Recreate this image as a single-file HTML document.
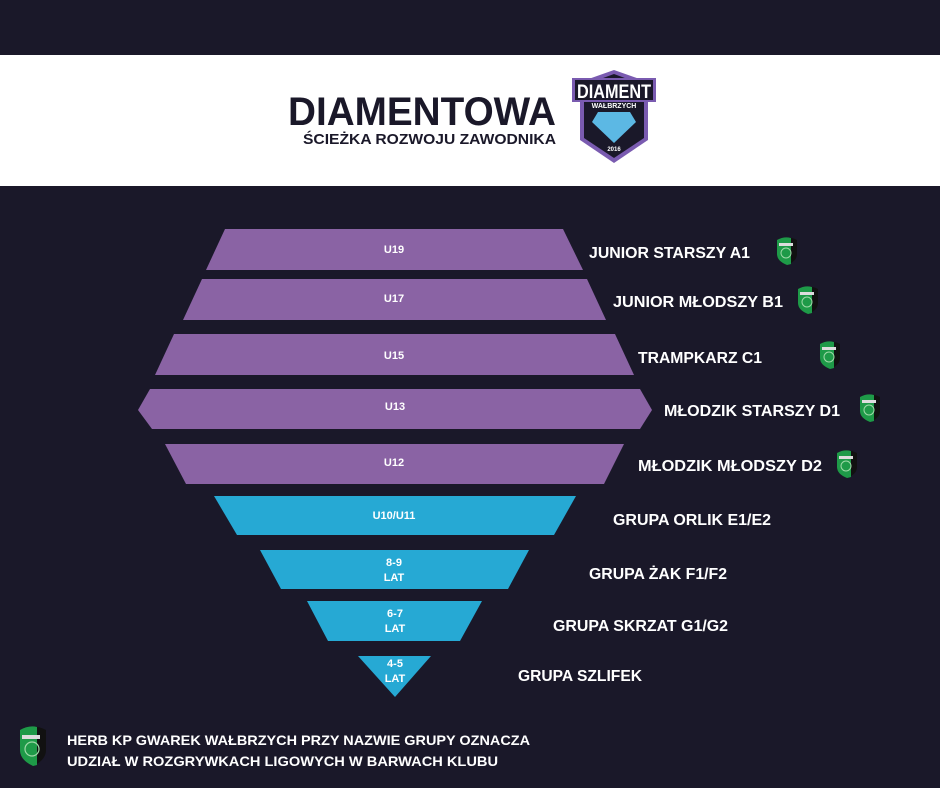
<!DOCTYPE html>
<html><head><meta charset="utf-8"><style>
html,body{margin:0;padding:0;background:#1a1829;}
svg{display:block}
text{font-family:"Liberation Sans",sans-serif;font-weight:bold;}
</style></head><body>
<svg width="940" height="788" viewBox="0 0 940 788" xmlns="http://www.w3.org/2000/svg">
<defs>
<g id="gw">
<path d="M0,3 Q10,-2 20,3 L20,17 Q20,24 10,28 Q0,24 0,17 Z" fill="#111"/>
<path d="M0,3 Q7,-1 14,1 L14,27 Q10,28 10,28 Q0,24 0,17 Z" fill="#1e9a48"/>
<rect x="2" y="6" width="14" height="3" fill="#ddd"/>
<circle cx="9" cy="16" r="5" fill="none" stroke="#9fd9a8" stroke-width="1"/>
</g>
<g id="gwb">
<path d="M0,4 Q13,-3 26,4 L26,24 Q26,34 13,40 Q0,34 0,24 Z" fill="#111"/>
<path d="M0,4 Q9,-1 17,1 L17,39 Q13,40 13,40 Q0,34 0,24 Z" fill="#1e9a48"/>
<rect x="2" y="9" width="18" height="4" fill="#ddd"/>
<circle cx="12" cy="23" r="7" fill="none" stroke="#9fd9a8" stroke-width="1.2"/>
</g>
</defs>
<rect width="940" height="788" fill="#1a1829"/>
<rect y="55" width="940" height="131" fill="#ffffff"/>
<text x="288" y="125" font-size="40" fill="#1a1829" textLength="268" lengthAdjust="spacingAndGlyphs">DIAMENTOWA</text>
<text x="303" y="144" font-size="15" fill="#1a1829" textLength="253" lengthAdjust="spacingAndGlyphs">ŚCIEŻKA ROZWOJU ZAWODNIKA</text>
<path d="M580,82 L614,70 L648,82 L648,140 L614,163 L580,140 Z" fill="#7a5bb0"/>
<path d="M584,85 L614,74 L644,85 L644,138 L614,158 L584,138 Z" fill="#1a1829"/>
<rect x="572" y="78" width="84" height="24" fill="#7a5bb0"/>
<rect x="575" y="80" width="78" height="20" fill="#1a1829"/>
<text x="614" y="98" font-size="19" fill="#fff" text-anchor="middle" textLength="74" lengthAdjust="spacingAndGlyphs">DIAMENT</text>
<text x="614" y="108" font-size="7" fill="#fff" text-anchor="middle">WAŁBRZYCH</text>
<path d="M598,112 L630,112 L636,122 L614,143 L592,122 Z" fill="#5cb8e4"/>
<text x="614" y="151" font-size="6" fill="#fff" text-anchor="middle">2016</text>
<g fill="#8a63a4">
<polygon points="225,229 563,229 583,270 206,270"/>
<polygon points="202,279 587,279 606,320 183,320"/>
<polygon points="174,334 615,334 634,375 155,375"/>
<polygon points="150,389 640,389 652,410 640,429 152,429 138,410"/>
<polygon points="165,444 624,444 604,484 186,484"/>
</g>
<g fill="#26a9d4">
<polygon points="214,496 576,496 554,535 237,535"/>
<polygon points="260,550 529,550 508,589 281,589"/>
<polygon points="307,601 482,601 460,641 328,641"/>
<polygon points="358,656 431,656 395,697"/>
</g>
<g fill="#fff" font-size="11" text-anchor="middle">
<text x="394" y="253">U19</text>
<text x="394" y="302">U17</text>
<text x="394" y="359">U15</text>
<text x="395" y="410">U13</text>
<text x="394" y="466">U12</text>
<text x="394" y="519">U10/U11</text>
<text x="394" y="566">8-9</text>
<text x="394" y="581">LAT</text>
<text x="395" y="617">6-7</text>
<text x="395" y="632">LAT</text>
<text x="395" y="667">4-5</text>
<text x="395" y="682">LAT</text>
</g>
<g fill="#fff" font-size="16">
<text x="589" y="258" textLength="161" lengthAdjust="spacingAndGlyphs">JUNIOR STARSZY A1</text>
<text x="613" y="307" textLength="170" lengthAdjust="spacingAndGlyphs">JUNIOR MŁODSZY B1</text>
<text x="638" y="363" textLength="124" lengthAdjust="spacingAndGlyphs">TRAMPKARZ C1</text>
<text x="664" y="416" textLength="176" lengthAdjust="spacingAndGlyphs">MŁODZIK STARSZY D1</text>
<text x="638" y="471" textLength="184" lengthAdjust="spacingAndGlyphs">MŁODZIK MŁODSZY D2</text>
<text x="613" y="525" textLength="158" lengthAdjust="spacingAndGlyphs">GRUPA ORLIK E1/E2</text>
<text x="589" y="579" textLength="138" lengthAdjust="spacingAndGlyphs">GRUPA ŻAK F1/F2</text>
<text x="553" y="631" textLength="175" lengthAdjust="spacingAndGlyphs">GRUPA SKRZAT G1/G2</text>
<text x="518" y="681" textLength="124" lengthAdjust="spacingAndGlyphs">GRUPA SZLIFEK</text>
</g>
<use href="#gw" x="777" y="237"/>
<use href="#gw" x="798" y="286"/>
<use href="#gw" x="820" y="341"/>
<use href="#gw" x="860" y="394"/>
<use href="#gw" x="837" y="450"/>
<use href="#gwb" x="20" y="726"/>
<g fill="#fff" font-size="14">
<text x="67" y="745" textLength="463" lengthAdjust="spacingAndGlyphs">HERB KP GWAREK WAŁBRZYCH PRZY NAZWIE GRUPY OZNACZA</text>
<text x="67" y="766" textLength="431" lengthAdjust="spacingAndGlyphs">UDZIAŁ W ROZGRYWKACH LIGOWYCH W BARWACH KLUBU</text>
</g>
</svg>
</body></html>
